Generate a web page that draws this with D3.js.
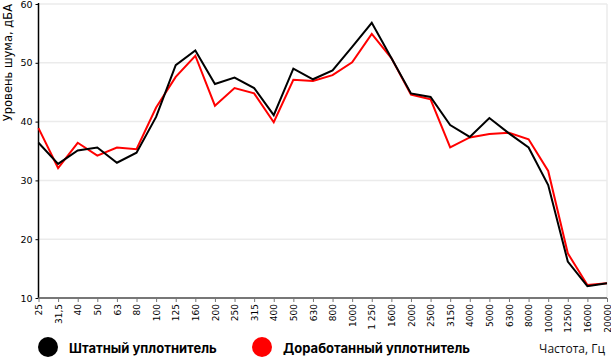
<!DOCTYPE html>
<html>
<head>
<meta charset="utf-8">
<script src="https://cdn.jsdelivr.net/npm/d3@7"></script>
<style>
  body { margin: 0; background: #fff; }
  svg { display: block; }
</style>
</head>
<body>
<div id="chart"></div>
<script>
// ========== DATA ==========
const frequencies = ["25", "31,5", "40", "50", "63", "80", "100", "125", "160", "200",
  "250", "315", "400", "500", "630", "800", "1000", "1 250", "1600", "2000",
  "2500", "3150", "4000", "5000", "6300", "8000", "10000", "12500", "16000", "20000"];

const stockSeal = [36.4, 32.8, 35.1, 35.6, 33.0, 34.7, 40.8, 49.6, 52.1, 46.4,
  47.5, 45.7, 41.1, 49.0, 47.2, 48.7, 52.7, 56.8, 50.8, 44.8,
  44.2, 39.4, 37.4, 40.6, 38.0, 35.6, 29.2, 16.2, 12.0, 12.5];

const improvedSeal = [38.9, 32.1, 36.4, 34.2, 35.6, 35.3, 42.4, 47.6, 51.2, 42.7,
  45.7, 44.8, 39.9, 47.1, 46.9, 47.9, 50.1, 54.9, 50.8, 44.6,
  43.8, 35.6, 37.3, 37.9, 38.1, 37.0, 31.6, 17.6, 12.2, 12.5];

const yTicks = [10, 20, 30, 40, 50, 60];

const series = [
  { name: "Штатный уплотнитель", color: "#000000", values: stockSeal },
  { name: "Доработанный уплотнитель", color: "#ff0000", values: improvedSeal }
];

// ========== CHART ==========
const width = 611, height = 359;
const plot = { left: 38.5, right: 607, top: 4, bottom: 298 };

const svg = d3.select("#chart").append("svg")
  .attr("width", width)
  .attr("height", height);

const x = d3.scalePoint().domain(frequencies).range([plot.left, plot.right]);
const y = d3.scaleLinear().domain([10, 60]).range([plot.bottom, plot.top]);

// grid
svg.append("g")
  .selectAll("line")
  .data(yTicks.slice(1))
  .join("line")
  .attr("x1", plot.left)
  .attr("x2", plot.right)
  .attr("y1", d => y(d))
  .attr("y2", d => y(d))
  .style("stroke", "#ebebeb")
  .style("stroke-width", 1.5);

svg.append("line")
  .attr("x1", plot.right).attr("x2", plot.right)
  .attr("y1", plot.top).attr("y2", plot.bottom)
  .style("stroke", "#ebebeb")
  .style("stroke-width", 1.5);

// y axis
const yAxis = svg.append("g")
  .attr("transform", `translate(${plot.left},0)`)
  .call(d3.axisLeft(y).tickValues(yTicks).tickSize(3).tickPadding(3));
yAxis.select(".domain").attr("d", `M0,${plot.top - 1}V${plot.bottom}`).style("stroke", "#000").style("stroke-width", 1.5);
yAxis.selectAll(".tick line").style("stroke", "#000");
yAxis.selectAll("text")
  .style("font-family", "DejaVu Sans, sans-serif")
  .style("font-size", "9.5px")
  .style("fill", "#000");

// x axis
const xAxis = svg.append("g")
  .attr("transform", `translate(0,${plot.bottom})`)
  .call(d3.axisBottom(x).tickSize(4).tickPadding(0));
xAxis.select(".domain").attr("d", `M${plot.left},0H${plot.right}`).style("stroke", "#777").style("stroke-width", 2);
xAxis.selectAll(".tick line").style("stroke", "#777");
xAxis.selectAll("text")
  .attr("transform", "rotate(-90)")
  .attr("x", -6)
  .attr("y", 0)
  .attr("dy", "0.35em")
  .style("text-anchor", "end")
  .style("font-family", "DejaVu Sans, sans-serif")
  .style("font-size", "9px")
  .style("fill", "#000");

// lines
const line = d3.line()
  .x((d, i) => x(frequencies[i]))
  .y(d => y(d));

svg.append("g")
  .selectAll("path")
  .data(series.slice().reverse())
  .join("path")
  .attr("d", d => line(d.values))
  .style("fill", "none")
  .style("stroke", d => d.color)
  .style("stroke-width", 2)
  .style("stroke-linejoin", "miter");

// y label
svg.append("text")
  .attr("transform", `translate(12,${plot.top}) rotate(-90)`)
  .style("text-anchor", "end")
  .style("font-family", "DejaVu Sans, sans-serif")
  .style("font-size", "11.5px")
  .style("fill", "#000")
  .text("Уровень шума, дБА");

// legend
const legendX = [48, 262];
const legend = svg.append("g")
  .selectAll("g")
  .data(series)
  .join("g")
  .attr("transform", (d, i) => `translate(${legendX[i]},347)`);

legend.append("circle")
  .attr("r", 10)
  .style("fill", d => d.color);

legend.append("text")
  .attr("x", 21)
  .attr("y", 6)
  .style("font-family", "Inter, sans-serif")
  .style("font-weight", "bold")
  .style("font-size", "13px")
  .style("fill", "#000")
  .text(d => d.name);

// x label
svg.append("text")
  .attr("x", 605)
  .attr("y", 353)
  .style("text-anchor", "end")
  .style("font-family", "Open Sans, sans-serif")
  .style("font-size", "12px")
  .style("fill", "#111")
  .text("Частота, Гц");
</script>
</body>
</html>
